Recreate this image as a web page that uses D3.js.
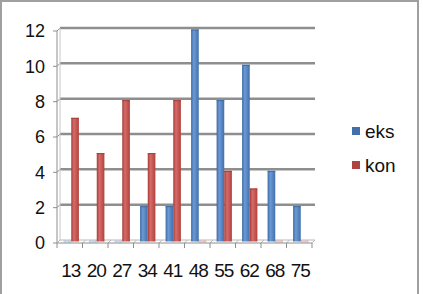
<!DOCTYPE html>
<html>
<head>
<meta charset="utf-8">
<script src="https://cdn.jsdelivr.net/npm/d3@7"></script>
<style>
	body { margin: 0; background: white; }
	#outer { width: 423px; height: 294px; }
</style>
</head>
<body>
<div id="outer"></div>
<script>
////////// Data //////////
const categories = ['13', '20', '27', '34', '41', '48', '55', '62', '68', '75'];
const eksValues = [0, 0, 0, 2, 2, 12, 8, 10, 4, 2];
const konValues = [7, 5, 8, 5, 8, 0, 4, 3, 0, 0];
const seriesNames = ['eks', 'kon'];
const yTickValues = [0, 2, 4, 6, 8, 10, 12];

function defineChart () {

	////////// Hard Coded Defs //////////
	const width = 423;
	const height = 294;
	const depth = 3;	// 3d offset front -> back wall
	const font = '"Liberation Sans", Arial, sans-serif';
	const gridColor = '#8e8e8e';
	const textColor = '#111';
	const colors = {eks: ['#3b69a3', '#6c9ad6', '#4170ab'], kon: ['#a53b38', '#d76b68', '#b0433f']};


	////////////////////////////////////////////////////////////////
		// Setup Data
	////////////////////////////////////////////////////////////////
	const setupDefinitions = () => {
		const data = {};
		data.rows = categories.map((cat, i) => ({cat, eks: eksValues[i], kon: konValues[i]}));
		data.x0 = d3.scaleBand().domain(categories).range([57, 312]).paddingInner(0.4).paddingOuter(0.2);
		data.xFront = d3.scaleBand().domain(categories).range([57, 312]);
		data.x1 = d3.scaleBand().domain(seriesNames).range([0, data.x0.bandwidth()]);
		data.yBack = d3.scaleLinear().domain([0, 12]).range([240, 28]);
		return data;
	};


	////////////////////////////////////////////////////////////////
		// Render
	////////////////////////////////////////////////////////////////
	const renderWidget = (svg, data) => {
		const defs = svg.append('defs');
		seriesNames.forEach(s => {
			const g = defs.append('linearGradient').attr('id', 'grad-' + s).attr('x1', 0).attr('x2', 1).attr('y1', 0).attr('y2', 0);
			g.append('stop').attr('offset', '0%').attr('stop-color', colors[s][0]);
			g.append('stop').attr('offset', '35%').attr('stop-color', colors[s][1]);
			g.append('stop').attr('offset', '100%').attr('stop-color', colors[s][2]);
		});

		// outer frame
		svg.append('rect')
			.attr('x', 1).attr('y', 1)
			.attr('width', 417).attr('height', height + 4)
			.attr('fill', 'none')
			.attr('stroke', '#a0a0a0')
			.attr('stroke-width', 2);

		const yB = data.yBack;
		const left = 57, right = 312;

		// ********** gridlines (back wall) ********** //
		const grid = svg.append('g').attr('class', 'grid');
		grid.selectAll('line.h')
			.data(yTickValues.filter(v => v > 0))
			.join('line')
			.attr('x1', left + depth).attr('x2', right + depth)
			.attr('y1', d => yB(d)).attr('y2', d => yB(d))
			.attr('stroke', gridColor).attr('stroke-width', 2.5);
		grid.selectAll('line.d')
			.data(yTickValues)
			.join('line')
			.attr('x1', left).attr('y1', d => yB(d) + depth)
			.attr('x2', left + depth).attr('y2', d => yB(d))
			.attr('stroke', gridColor).attr('stroke-width', 1);

		// back wall left edge + left axis
		grid.append('line')
			.attr('x1', left + depth).attr('x2', left + depth)
			.attr('y1', yB(12)).attr('y2', yB(0))
			.attr('stroke', '#c8c8c8').attr('stroke-width', 1);
		grid.append('line')
			.attr('x1', left).attr('x2', left)
			.attr('y1', yB(12) + depth).attr('y2', yB(0) + depth)
			.attr('stroke', gridColor).attr('stroke-width', 1);
		grid.selectAll('line.t')
			.data(yTickValues)
			.join('line')
			.attr('x1', left - 4).attr('x2', left)
			.attr('y1', d => yB(d) + depth).attr('y2', d => yB(d) + depth)
			.attr('stroke', gridColor).attr('stroke-width', 1);

		// floor
		grid.append('line')
			.attr('x1', left + depth).attr('x2', right + depth)
			.attr('y1', yB(0)).attr('y2', yB(0))
			.attr('stroke', '#b8b8b8').attr('stroke-width', 1);
		const bounds = categories.map(c => data.xFront(c)).concat([right]);
		grid.selectAll('line.fd')
			.data(bounds)
			.join('line')
			.attr('x1', d => d).attr('y1', yB(0) + depth)
			.attr('x2', d => d + depth).attr('y2', yB(0))
			.attr('stroke', '#b8b8b8').attr('stroke-width', 1);

		// ********** bars ********** //
		const barGroup = svg.append('g').attr('class', 'bars')
			.attr('transform', `translate(${depth / 2}, ${depth / 2})`);
		const groups = barGroup.selectAll('g.cat')
			.data(data.rows)
			.join('g')
			.attr('transform', d => `translate(${data.x0(d.cat)},0)`);
		groups.selectAll('rect')
			.data(d => seriesNames.map(s => ({s, v: d[s]})))
			.join('rect')
			.attr('x', d => data.x1(d.s))
			.attr('width', data.x1.bandwidth())
			.attr('y', d => d.v > 0 ? yB(d.v) : yB(0) - 1)
			.attr('height', d => d.v > 0 ? yB(0) - yB(d.v) : 2)
			.attr('fill', d => `url(#grad-${d.s})`)
			.attr('opacity', d => d.v > 0 ? 1 : 0.35);
		groups.selectAll('line.cap')
			.data(d => seriesNames.map(s => ({s, v: d[s]})).filter(e => e.v > 0))
			.join('line')
			.attr('x1', d => data.x1(d.s)).attr('x2', d => data.x1(d.s) + data.x1.bandwidth())
			.attr('y1', d => yB(d.v) + 0.5).attr('y2', d => yB(d.v) + 0.5)
			.attr('stroke', d => colors[d.s][0]).attr('stroke-width', 1);

		// front floor edge + category ticks
		svg.append('line')
			.attr('x1', left).attr('x2', right)
			.attr('y1', yB(0) + depth).attr('y2', yB(0) + depth)
			.attr('stroke', gridColor).attr('stroke-width', 1);
		svg.append('g').selectAll('line')
			.data(bounds)
			.join('line')
			.attr('x1', d => d).attr('x2', d => d)
			.attr('y1', yB(0) + depth).attr('y2', yB(0) + depth + 5)
			.attr('stroke', gridColor).attr('stroke-width', 1);
		barGroup.raise();

		// ********** labels ********** //
		svg.append('g').selectAll('text')
			.data(yTickValues)
			.join('text')
			.attr('x', 45)
			.attr('y', d => yB(d) + depth)
			.attr('dy', '0.35em')
			.attr('text-anchor', 'end')
			.style('font', `18px ${font}`)
			.attr('fill', textColor)
			.text(d => d);
		svg.append('g').selectAll('text')
			.data(categories)
			.join('text')
			.attr('x', d => data.xFront(d) + data.xFront.bandwidth() / 2 + 1)
			.attr('y', 277)
			.attr('text-anchor', 'middle')
			.style('font', `19px ${font}`)
			.style('letter-spacing', '-1px')
			.attr('fill', textColor)
			.text(d => d);

		// ********** legend ********** //
		const legend = svg.append('g').attr('class', 'legend')
			.attr('transform', 'translate(352, 131)');
		const item = legend.selectAll('g')
			.data(seriesNames)
			.join('g')
			.attr('transform', (d, i) => `translate(0, ${i * 34})`);
		item.append('rect')
			.attr('x', 0).attr('y', -4)
			.attr('width', 8).attr('height', 8)
			.attr('fill', d => colors[d][2]);
		item.append('text')
			.attr('x', 13).attr('y', 0)
			.attr('dy', '0.35em')
			.style('font', `19px ${font}`)
			.attr('fill', textColor)
			.text(d => d);
	};


	////////////////////////////////////////////////////////////////
		// Initialize
	////////////////////////////////////////////////////////////////
	function initialize() {
		const outer = d3.select('#outer').style('overflow', 'hidden');
		const svg = outer.append('svg')
			.attr('width', width)
			.attr('height', height);
		renderWidget(svg, setupDefinitions());
	}

	initialize();
}

defineChart();
</script>
</body>
</html>
